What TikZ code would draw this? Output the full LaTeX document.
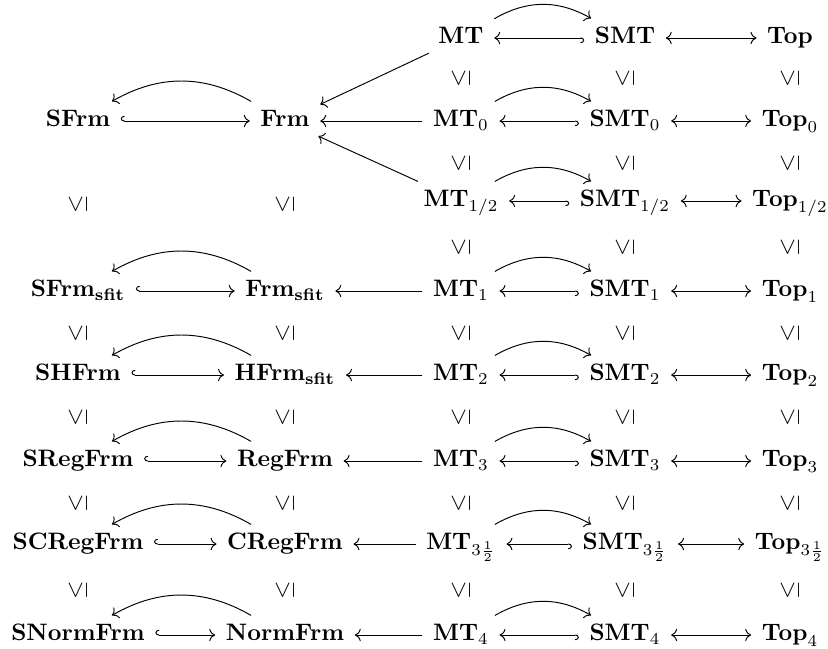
\documentclass[tikz,border=0pt]{standalone}
\usepackage{graphicx}
\usetikzlibrary{cd}
\tikzset{
  obj/.style={shape=asymmetrical rectangle, inner xsep=1ex, inner ysep=0.85ex, anchor=center},
  lesym/.style={inner sep=0pt, anchor=center},
  plainarr/.style={-tikzcd to, line width=0.4pt},
  hookarr/.style={tikzcd right hook-tikzcd to, line width=0.4pt},
  bothends/.style={tikzcd to-tikzcd to, line width=0.4pt}
}
\newcommand{\lerot}{\rotatebox{90}{$\leq$}}
\begin{document}
\begin{tikzpicture}[x=0.4202pt, y=-0.4202pt]
\useasboundingbox (0,0) rectangle (828,648);
% columns
\def\ca{78}\def\cb{285}\def\cc{461}\def\cd{625}\def\ce{790}
% row 1
\node[obj] (MT)  at (\cc,38) {$\mathbf{MT}$};
\node[obj] (SMT) at (\cd,38) {$\mathbf{SMT}$};
\node[obj] (Top) at (\ce,38) {$\mathbf{Top}$};
% row 3
\node[obj] (SFrm) at (\ca,121) {$\mathbf{SFrm}$};
\node[obj] (Frm)  at (\cb,121) {$\mathbf{Frm}$};
\node[obj] (MT0)  at (\cc,121) {$\mathbf{MT}_0$};
\node[obj] (SMT0) at (\cd,121) {$\mathbf{SMT}_0$};
\node[obj] (Top0) at (\ce,121) {$\mathbf{Top}_0$};
% row 5
\node[obj] (MTh)  at (\cc,201) {$\mathbf{MT}_{1/2}$};
\node[obj] (SMTh) at (\cd,201) {$\mathbf{SMT}_{1/2}$};
\node[obj] (Toph) at (\ce,201) {$\mathbf{Top}_{1/2}$};
% row 7
\node[obj] (SFrms) at (\ca,291) {$\mathbf{SFrm}_{\mathbf{sfit}}$};
\node[obj] (Frms)  at (\cb,291) {$\mathbf{Frm}_{\mathbf{sfit}}$};
\node[obj] (MT1)   at (\cc,291) {$\mathbf{MT}_1$};
\node[obj] (SMT1)  at (\cd,291) {$\mathbf{SMT}_1$};
\node[obj] (Top1)  at (\ce,291) {$\mathbf{Top}_1$};
% row 9
\node[obj] (SHFrm) at (\ca,375) {$\mathbf{SHFrm}$};
\node[obj] (HFrms) at (\cb,375) {$\mathbf{HFrm}_{\mathbf{sfit}}$};
\node[obj] (MT2)   at (\cc,375) {$\mathbf{MT}_2$};
\node[obj] (SMT2)  at (\cd,375) {$\mathbf{SMT}_2$};
\node[obj] (Top2)  at (\ce,375) {$\mathbf{Top}_2$};
% row 11
\node[obj] (SRegFrm) at (\ca,461) {$\mathbf{SRegFrm}$};
\node[obj] (RegFrm)  at (\cb,461) {$\mathbf{RegFrm}$};
\node[obj] (MT3)     at (\cc,461) {$\mathbf{MT}_3$};
\node[obj] (SMT3)    at (\cd,461) {$\mathbf{SMT}_3$};
\node[obj] (Top3)    at (\ce,461) {$\mathbf{Top}_3$};
% row 13
\node[obj] (SCRegFrm) at (\ca,544) {$\mathbf{SCRegFrm}$};
\node[obj] (CRegFrm)  at (\cb,544) {$\mathbf{CRegFrm}$};
\node[obj] (MTth)     at (\cc,544) {$\mathbf{MT}_{3\frac12}$};
\node[obj] (SMTth)    at (\cd,544) {$\mathbf{SMT}_{3\frac12}$};
\node[obj] (Topth)    at (\ce,544) {$\mathbf{Top}_{3\frac12}$};
% row 15
\node[obj] (SNormFrm) at (\ca,635) {$\mathbf{SNormFrm}$};
\node[obj] (NormFrm)  at (\cb,635) {$\mathbf{NormFrm}$};
\node[obj] (MT4)      at (\cc,635) {$\mathbf{MT}_4$};
\node[obj] (SMT4)     at (\cd,635) {$\mathbf{SMT}_4$};
\node[obj] (Top4)     at (\ce,635) {$\mathbf{Top}_4$};
% order symbols, right block
\foreach \y [count=\i] in {78,163,247,333,417,503,590} {
  \node[lesym] (lec\i) at (\cc,\y) {\lerot};
  \node[lesym] (led\i) at (\cd,\y) {\lerot};
  \node[lesym] (lee\i) at (\ce,\y) {\lerot};
}
% order symbols, left block
\foreach \y [count=\i] in {204,333,417,503,590} {
  \node[lesym] (lea\i) at (\ca,\y) {\lerot};
  \node[lesym] (leb\i) at (\cb,\y) {\lerot};
}
% right block arrows
\foreach \a/\b/\c in {MT/SMT/Top, MT0/SMT0/Top0, MTh/SMTh/Toph, MT1/SMT1/Top1,
                      MT2/SMT2/Top2, MT3/SMT3/Top3, MTth/SMTth/Topth, MT4/SMT4/Top4} {
  \draw[hookarr] (\b) -- (\a);
  \draw[plainarr] (\a) to[bend left=30] (\b);
  \draw[bothends] (\b) -- (\c);
}
% left block arrows
\foreach \s/\f/\m in {SFrm/Frm/MT0, SFrms/Frms/MT1, SHFrm/HFrms/MT2,
                      SRegFrm/RegFrm/MT3, SCRegFrm/CRegFrm/MTth, SNormFrm/NormFrm/MT4} {
  \draw[hookarr] (\s) -- (\f);
  \draw[plainarr] (\f) to[bend right=30] (\s);
  \draw[plainarr] (\m) -- (\f);
}
% diagonals into Frm
\draw[plainarr] (MT) -- (Frm);
\draw[plainarr] (MTh) -- (Frm);
\end{tikzpicture}
\end{document}
